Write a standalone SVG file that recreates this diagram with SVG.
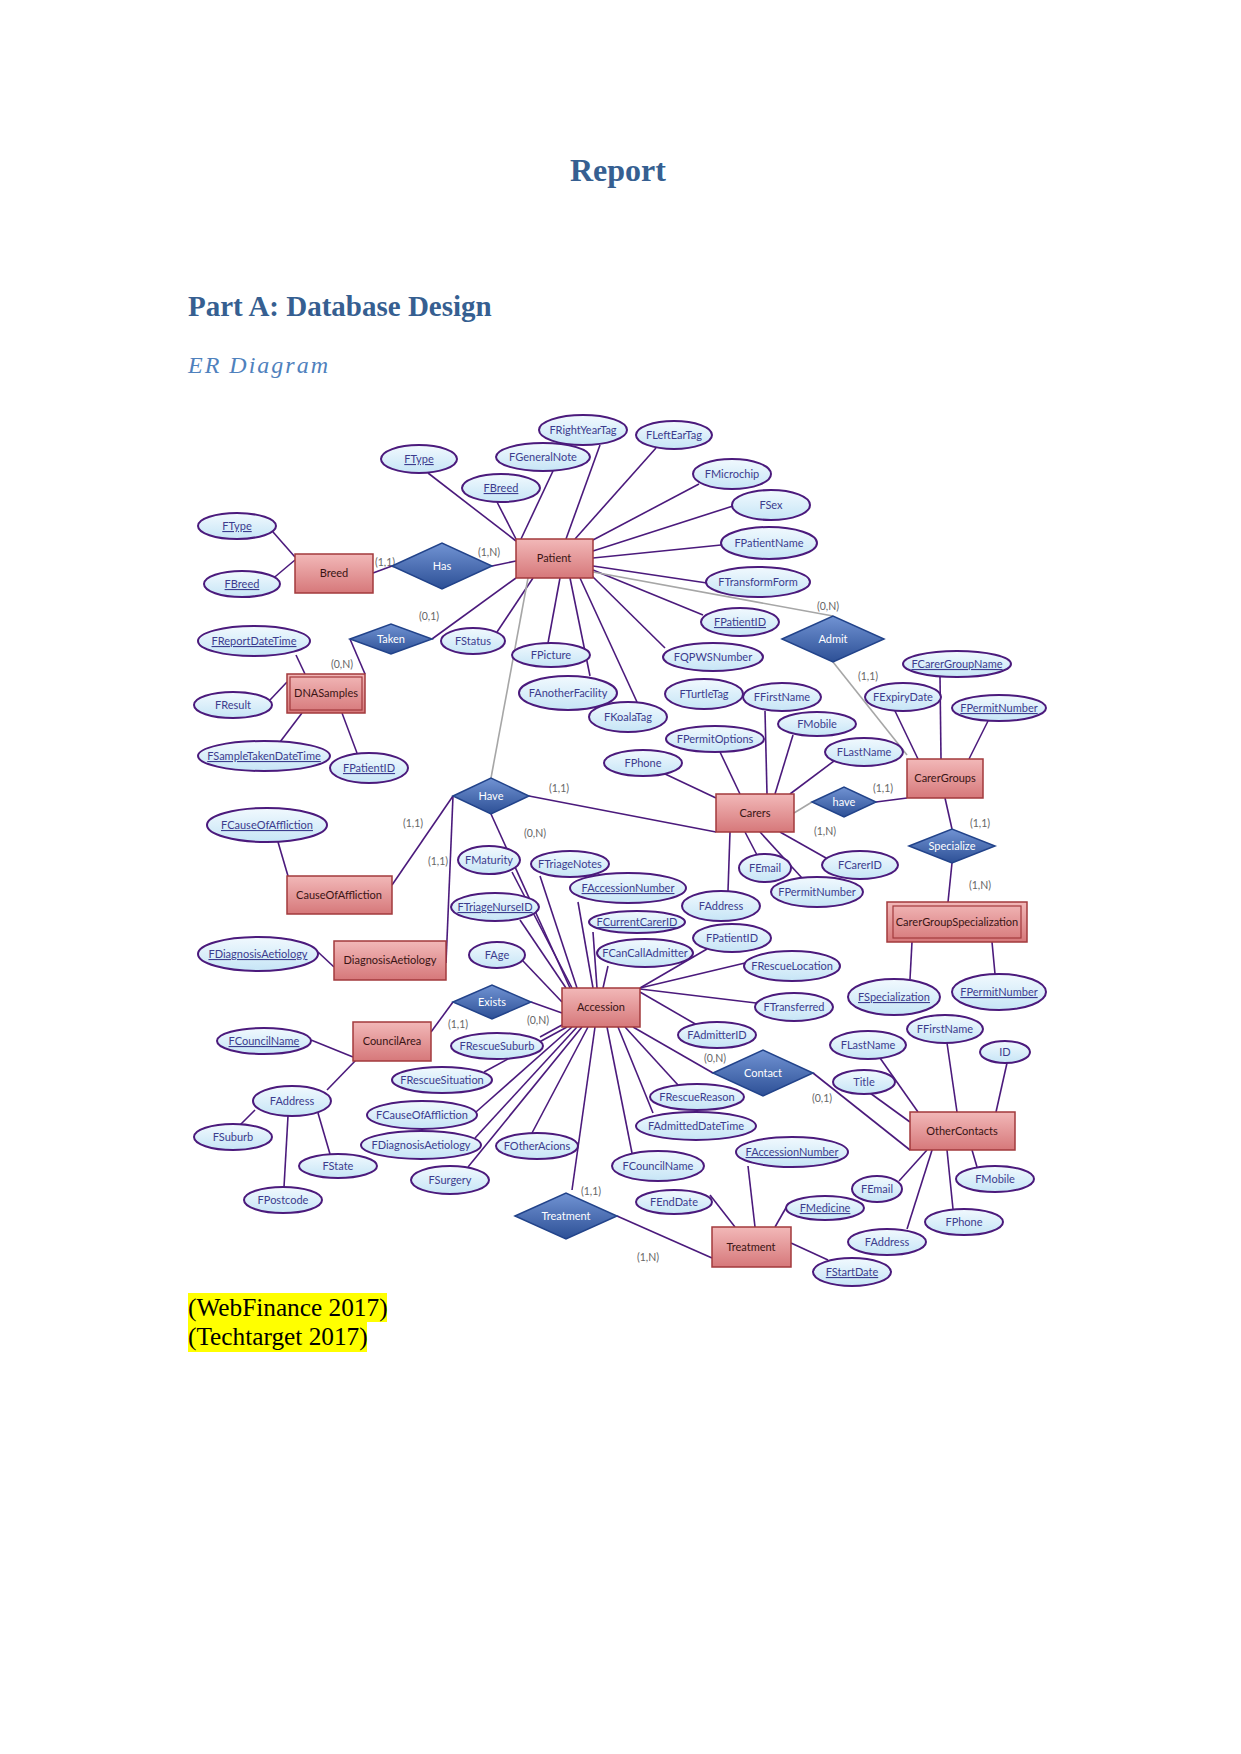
<svg xmlns="http://www.w3.org/2000/svg" width="1241" height="1754" viewBox="0 0 1241 1754">
<defs>
<linearGradient id="ge" x1="0" y1="0" x2="0" y2="1"><stop offset="0" stop-color="#f2b8b8"/><stop offset="1" stop-color="#d6787a"/></linearGradient>
<linearGradient id="ga" x1="0" y1="0" x2="0" y2="1"><stop offset="0" stop-color="#f1f9fe"/><stop offset="1" stop-color="#c6e5f6"/></linearGradient>
<linearGradient id="gr" x1="0" y1="0" x2="0" y2="1"><stop offset="0" stop-color="#7193d3"/><stop offset="1" stop-color="#2d5096"/></linearGradient>
<style>
.e{fill:url(#ge);stroke:#a23a3c;stroke-width:1.5}
.ei{fill:none;stroke:#a23a3c;stroke-width:1.2}
.a{fill:url(#ga);stroke:#4b1a7c;stroke-width:2}
.r{fill:url(#gr);stroke:#22438a;stroke-width:1.5}
.conn line{stroke:#4b1a7c;stroke-width:1.6}
.conn line.g{stroke:#a6a6a6}
text{font-family:Lato,"Liberation Sans",sans-serif;font-size:11px;text-anchor:middle}
.at{fill:#3c3c8e}
.u{text-decoration:underline}
.et{fill:#3a1414}
.rt{fill:#ffffff}
.c{fill:#666;font-size:10.5px}
text.h{font-family:"Liberation Serif",serif;text-anchor:start}
text.h1{font-size:32px;font-weight:bold;fill:#365f91}
text.h2{font-size:29px;font-weight:bold;fill:#365f91}
text.h3{font-size:24px;font-style:italic;letter-spacing:2px;fill:#4f81bd}
text.ref{font-size:25.3px;fill:#000000}
</style>
</defs>
<rect width="1241" height="1754" fill="#ffffff"/>
<text class="h h1" x="570" y="181">Report</text>
<text class="h h2" x="188" y="316">Part A: Database Design</text>
<text class="h h3" x="188" y="373">ER Diagram</text>
<rect x="188" y="1293" width="199" height="29" fill="#ffff00"/>
<rect x="188" y="1322" width="179" height="30" fill="#ffff00"/>
<text class="h ref" x="188" y="1316">(WebFinance 2017)</text>
<text class="h ref" x="188" y="1345">(Techtarget 2017)</text>

<g id="connectors" class="conn">
<line x1="273" y1="532" x2="295" y2="557"/>
<line x1="270" y1="581" x2="295" y2="560"/>
<line x1="373" y1="573" x2="392" y2="566"/>
<line x1="492" y1="566" x2="516" y2="561"/>
<line x1="428" y1="473" x2="516" y2="541"/>
<line x1="497" y1="502" x2="516" y2="539"/>
<line x1="553" y1="471" x2="521" y2="539"/>
<line x1="600" y1="445" x2="566" y2="539"/>
<line x1="656" y1="448" x2="575" y2="539"/>
<line x1="699" y1="484" x2="593" y2="540"/>
<line x1="733" y1="506" x2="593" y2="551"/>
<line x1="721" y1="545" x2="593" y2="558"/>
<line x1="707" y1="583" x2="593" y2="566"/>
<line x1="703" y1="615" x2="593" y2="570"/>
<line class="g" x1="593" y1="572" x2="833" y2="616"/>
<line x1="516" y1="578" x2="432" y2="639"/>
<line x1="533" y1="578" x2="497" y2="632"/>
<line class="g" x1="528" y1="578" x2="491" y2="778"/>
<line x1="560" y1="578" x2="548" y2="643"/>
<line x1="570" y1="578" x2="590" y2="676"/>
<line x1="580" y1="578" x2="637" y2="702"/>
<line x1="591" y1="575" x2="665" y2="648"/>
<line x1="350" y1="639" x2="365" y2="674"/>
<line x1="296" y1="655" x2="305" y2="674"/>
<line x1="270" y1="700" x2="287" y2="682"/>
<line x1="280" y1="742" x2="302" y2="713"/>
<line x1="357" y1="753" x2="342" y2="713"/>
<line x1="278" y1="842" x2="288" y2="876"/>
<line x1="453" y1="796" x2="392" y2="885"/>
<line x1="453" y1="796" x2="446" y2="963"/>
<line x1="318" y1="952" x2="334" y2="967"/>
<line x1="529" y1="796" x2="716" y2="832"/>
<line x1="491" y1="814" x2="570" y2="988"/>
<line x1="663" y1="773" x2="716" y2="798"/>
<line x1="720" y1="752" x2="740" y2="794"/>
<line x1="765" y1="711" x2="767" y2="794"/>
<line x1="793" y1="735" x2="775" y2="794"/>
<line x1="838" y1="758" x2="790" y2="794"/>
<line class="g" x1="794" y1="813" x2="812" y2="802"/>
<line x1="730" y1="832" x2="728" y2="891"/>
<line x1="745" y1="832" x2="757" y2="855"/>
<line x1="760" y1="832" x2="802" y2="878"/>
<line x1="780" y1="832" x2="826" y2="858"/>
<line class="g" x1="833" y1="662" x2="907" y2="755"/>
<line x1="895" y1="711" x2="918" y2="759"/>
<line x1="940" y1="677" x2="941" y2="759"/>
<line x1="988" y1="721" x2="969" y2="759"/>
<line x1="876" y1="802" x2="907" y2="798"/>
<line x1="945" y1="798" x2="952" y2="829"/>
<line x1="952" y1="863" x2="948" y2="902"/>
<line x1="912" y1="942" x2="910" y2="979"/>
<line x1="992" y1="942" x2="995" y2="974"/>
<line x1="512" y1="872" x2="572" y2="988"/>
<line x1="540" y1="876" x2="577" y2="988"/>
<line x1="578" y1="902" x2="593" y2="988"/>
<line x1="593" y1="932" x2="597" y2="988"/>
<line x1="608" y1="966" x2="603" y2="988"/>
<line x1="520" y1="920" x2="566" y2="988"/>
<line x1="523" y1="961" x2="562" y2="1002"/>
<line x1="531" y1="1002" x2="562" y2="1013"/>
<line x1="431" y1="1032" x2="453" y2="1002"/>
<line x1="707" y1="949" x2="640" y2="988"/>
<line x1="745" y1="963" x2="640" y2="988"/>
<line x1="756" y1="1003" x2="640" y2="989"/>
<line x1="697" y1="1025" x2="640" y2="992"/>
<line x1="633" y1="1027" x2="713" y2="1073"/>
<line x1="562" y1="1025" x2="540" y2="1037"/>
<line x1="567" y1="1027" x2="484" y2="1072"/>
<line x1="572" y1="1027" x2="476" y2="1112"/>
<line x1="577" y1="1027" x2="475" y2="1138"/>
<line x1="582" y1="1027" x2="468" y2="1167"/>
<line x1="588" y1="1027" x2="532" y2="1133"/>
<line x1="595" y1="1027" x2="572" y2="1190"/>
<line x1="607" y1="1027" x2="632" y2="1153"/>
<line x1="618" y1="1027" x2="653" y2="1113"/>
<line x1="625" y1="1027" x2="678" y2="1085"/>
<line x1="311" y1="1040" x2="353" y2="1057"/>
<line x1="357" y1="1059" x2="327" y2="1090"/>
<line x1="255" y1="1110" x2="240" y2="1125"/>
<line x1="288" y1="1116" x2="284" y2="1187"/>
<line x1="318" y1="1113" x2="330" y2="1154"/>
<line x1="617" y1="1216" x2="712" y2="1258"/>
<line x1="710" y1="1195" x2="735" y2="1227"/>
<line x1="748" y1="1166" x2="755" y2="1227"/>
<line x1="787" y1="1206" x2="775" y2="1227"/>
<line x1="791" y1="1243" x2="828" y2="1260"/>
<line x1="813" y1="1073" x2="910" y2="1150"/>
<line x1="870" y1="1093" x2="910" y2="1122"/>
<line x1="880" y1="1058" x2="918" y2="1112"/>
<line x1="947" y1="1043" x2="957" y2="1112"/>
<line x1="1007" y1="1063" x2="996" y2="1112"/>
<line x1="972" y1="1150" x2="977" y2="1167"/>
<line x1="947" y1="1150" x2="953" y2="1209"/>
<line x1="927" y1="1150" x2="899" y2="1181"/>
<line x1="933" y1="1147" x2="907" y2="1229"/>
</g>

<g id="cardinalities">
<text class="c" x="385" y="566">(1,1)</text>
<text class="c" x="489" y="556">(1,N)</text>
<text class="c" x="429" y="620">(0,1)</text>
<text class="c" x="828" y="610">(0,N)</text>
<text class="c" x="342" y="668">(0,N)</text>
<text class="c" x="559" y="792">(1,1)</text>
<text class="c" x="535" y="837">(0,N)</text>
<text class="c" x="413" y="827">(1,1)</text>
<text class="c" x="868" y="680">(1,1)</text>
<text class="c" x="883" y="792">(1,1)</text>
<text class="c" x="825" y="835">(1,N)</text>
<text class="c" x="980" y="827">(1,1)</text>
<text class="c" x="980" y="889">(1,N)</text>
<text class="c" x="438" y="865">(1,1)</text>
<text class="c" x="458" y="1028">(1,1)</text>
<text class="c" x="538" y="1024">(0,N)</text>
<text class="c" x="715" y="1062">(0,N)</text>
<text class="c" x="822" y="1102">(0,1)</text>
<text class="c" x="591" y="1195">(1,1)</text>
<text class="c" x="648" y="1261">(1,N)</text>
</g>

<g id="rel-has"><polygon class="r" points="392,566 442,543 492,566 442,589"/><text class="rt" x="442" y="570">Has</text></g>
<g id="rel-taken"><polygon class="r" points="350,639 391,624 432,639 391,654"/><text class="rt" x="391" y="643">Taken</text></g>
<g id="rel-admit"><polygon class="r" points="782,639 833,616 884,639 833,662"/><text class="rt" x="833" y="643">Admit</text></g>
<g id="rel-have"><polygon class="r" points="453,796 491,778 529,796 491,814"/><text class="rt" x="491" y="800">Have</text></g>
<g id="rel-have2"><polygon class="r" points="812,802 844,787 876,802 844,817"/><text class="rt" x="844" y="806">have</text></g>
<g id="rel-specialize"><polygon class="r" points="909,846 952,829 995,846 952,863"/><text class="rt" x="952" y="850">Specialize</text></g>
<g id="rel-exists"><polygon class="r" points="453,1002 492,985 531,1002 492,1019"/><text class="rt" x="492" y="1006">Exists</text></g>
<g id="rel-contact"><polygon class="r" points="713,1073 763,1050 813,1073 763,1096"/><text class="rt" x="763" y="1077">Contact</text></g>
<g id="rel-treatment"><polygon class="r" points="515,1216 566,1193 617,1216 566,1239"/><text class="rt" x="566" y="1220">Treatment</text></g>

<g id="ent-breed"><rect class="e" x="295" y="554" width="78" height="39"/><text class="et" x="334" y="577">Breed</text></g>
<g id="ent-patient"><rect class="e" x="516" y="539" width="77" height="39"/><text class="et" x="554" y="562">Patient</text></g>
<g id="ent-dnasamples"><rect class="e" x="287" y="674" width="78" height="39"/><rect class="ei" x="290" y="677" width="72" height="33"/><text class="et" x="326" y="697">DNASamples</text></g>
<g id="ent-causeofaffliction"><rect class="e" x="287" y="876" width="105" height="38"/><text class="et" x="339" y="899">CauseOfAffliction</text></g>
<g id="ent-diagnosisaetiology"><rect class="e" x="334" y="941" width="112" height="39"/><text class="et" x="390" y="964">DiagnosisAetiology</text></g>
<g id="ent-councilarea"><rect class="e" x="353" y="1022" width="78" height="39"/><text class="et" x="392" y="1045">CouncilArea</text></g>
<g id="ent-carers"><rect class="e" x="716" y="794" width="78" height="38"/><text class="et" x="755" y="817">Carers</text></g>
<g id="ent-carergroups"><rect class="e" x="907" y="759" width="76" height="39"/><text class="et" x="945" y="782">CarerGroups</text></g>
<g id="ent-carergroupspecialization"><rect class="e" x="887" y="902" width="140" height="40"/><rect class="ei" x="893" y="906" width="128" height="32"/><text class="et" x="957" y="926">CarerGroupSpecialization</text></g>
<g id="ent-accession"><rect class="e" x="562" y="988" width="78" height="39"/><text class="et" x="601" y="1011">Accession</text></g>
<g id="ent-treatment"><rect class="e" x="712" y="1227" width="79" height="40"/><text class="et" x="751" y="1251">Treatment</text></g>
<g id="ent-othercontacts"><rect class="e" x="910" y="1112" width="105" height="38"/><text class="et" x="962" y="1135">OtherContacts</text></g>

<g id="at-ftype1"><ellipse class="a" cx="419" cy="459" rx="38" ry="14"/><text class="at u" x="419" y="463">FType</text></g>
<g id="at-ftype2"><ellipse class="a" cx="237" cy="526" rx="39" ry="13"/><text class="at u" x="237" y="530">FType</text></g>
<g id="at-fbreed1"><ellipse class="a" cx="242" cy="584" rx="38" ry="13"/><text class="at u" x="242" y="588">FBreed</text></g>
<g id="at-frightyeartag"><ellipse class="a" cx="583" cy="430" rx="44" ry="15"/><text class="at" x="583" y="434">FRightYearTag</text></g>
<g id="at-flefteartag"><ellipse class="a" cx="674" cy="435" rx="38" ry="14"/><text class="at" x="674" y="439">FLeftEarTag</text></g>
<g id="at-fgeneralnote"><ellipse class="a" cx="543" cy="457" rx="47" ry="14"/><text class="at" x="543" y="461">FGeneralNote</text></g>
<g id="at-fbreed2"><ellipse class="a" cx="501" cy="488" rx="39" ry="14"/><text class="at u" x="501" y="492">FBreed</text></g>
<g id="at-fmicrochip"><ellipse class="a" cx="732" cy="474" rx="39" ry="15"/><text class="at" x="732" y="478">FMicrochip</text></g>
<g id="at-fsex"><ellipse class="a" cx="771" cy="505" rx="39" ry="15"/><text class="at" x="771" y="509">FSex</text></g>
<g id="at-fpatientname"><ellipse class="a" cx="769" cy="543" rx="48" ry="16"/><text class="at" x="769" y="547">FPatientName</text></g>
<g id="at-ftransformform"><ellipse class="a" cx="758" cy="582" rx="52" ry="15"/><text class="at" x="758" y="586">FTransformForm</text></g>
<g id="at-fpatientid1"><ellipse class="a" cx="740" cy="622" rx="39" ry="14"/><text class="at u" x="740" y="626">FPatientID</text></g>
<g id="at-freportdatetime"><ellipse class="a" cx="254" cy="641" rx="56" ry="15"/><text class="at u" x="254" y="645">FReportDateTime</text></g>
<g id="at-fstatus"><ellipse class="a" cx="473" cy="641" rx="32" ry="13"/><text class="at" x="473" y="645">FStatus</text></g>
<g id="at-fresult"><ellipse class="a" cx="233" cy="705" rx="39" ry="13"/><text class="at" x="233" y="709">FResult</text></g>
<g id="at-fsampletakendatetime"><ellipse class="a" cx="264" cy="756" rx="66" ry="15"/><text class="at u" x="264" y="760">FSampleTakenDateTime</text></g>
<g id="at-fpatientid2"><ellipse class="a" cx="369" cy="768" rx="39" ry="15"/><text class="at u" x="369" y="772">FPatientID</text></g>
<g id="at-fpicture"><ellipse class="a" cx="551" cy="655" rx="39" ry="12"/><text class="at" x="551" y="659">FPicture</text></g>
<g id="at-fqpwsnumber"><ellipse class="a" cx="713" cy="657" rx="50" ry="14"/><text class="at" x="713" y="661">FQPWSNumber</text></g>
<g id="at-fanotherfacility"><ellipse class="a" cx="568" cy="693" rx="49" ry="17"/><text class="at" x="568" y="697">FAnotherFacility</text></g>
<g id="at-fkoalatag"><ellipse class="a" cx="628" cy="717" rx="39" ry="15"/><text class="at" x="628" y="721">FKoalaTag</text></g>
<g id="at-fturtletag"><ellipse class="a" cx="704" cy="694" rx="39" ry="15"/><text class="at" x="704" y="698">FTurtleTag</text></g>
<g id="at-ffirstname1"><ellipse class="a" cx="782" cy="697" rx="39" ry="14"/><text class="at" x="782" y="701">FFirstName</text></g>
<g id="at-fpermitoptions"><ellipse class="a" cx="715" cy="739" rx="49" ry="13"/><text class="at" x="715" y="743">FPermitOptions</text></g>
<g id="at-fphone1"><ellipse class="a" cx="643" cy="763" rx="39" ry="13"/><text class="at" x="643" y="767">FPhone</text></g>
<g id="at-fmobile1"><ellipse class="a" cx="817" cy="724" rx="39" ry="12"/><text class="at" x="817" y="728">FMobile</text></g>
<g id="at-flastname1"><ellipse class="a" cx="864" cy="752" rx="39" ry="14"/><text class="at" x="864" y="756">FLastName</text></g>
<g id="at-fcarergroupname"><ellipse class="a" cx="957" cy="664" rx="54" ry="13"/><text class="at u" x="957" y="668">FCarerGroupName</text></g>
<g id="at-fexpirydate"><ellipse class="a" cx="903" cy="697" rx="38" ry="14"/><text class="at" x="903" y="701">FExpiryDate</text></g>
<g id="at-fpermitnumber1"><ellipse class="a" cx="999" cy="708" rx="47" ry="13"/><text class="at u" x="999" y="712">FPermitNumber</text></g>
<g id="at-fcauseofaffliction1"><ellipse class="a" cx="267" cy="825" rx="60" ry="17"/><text class="at u" x="267" y="829">FCauseOfAffliction</text></g>
<g id="at-fmaturity"><ellipse class="a" cx="489" cy="860" rx="31" ry="14"/><text class="at" x="489" y="864">FMaturity</text></g>
<g id="at-ftriagenotes"><ellipse class="a" cx="570" cy="864" rx="39" ry="13"/><text class="at" x="570" y="868">FTriageNotes</text></g>
<g id="at-faccessionnumber1"><ellipse class="a" cx="628" cy="888" rx="58" ry="15"/><text class="at u" x="628" y="892">FAccessionNumber</text></g>
<g id="at-ftriagenurseid"><ellipse class="a" cx="495" cy="907" rx="44" ry="14"/><text class="at u" x="495" y="911">FTriageNurseID</text></g>
<g id="at-fcurrentcarerid"><ellipse class="a" cx="637" cy="922" rx="48" ry="11"/><text class="at u" x="637" y="926">FCurrentCarerID</text></g>
<g id="at-fcancalladmitter"><ellipse class="a" cx="645" cy="953" rx="48" ry="14"/><text class="at" x="645" y="957">FCanCallAdmitter</text></g>
<g id="at-fage"><ellipse class="a" cx="497" cy="955" rx="28" ry="13"/><text class="at" x="497" y="959">FAge</text></g>
<g id="at-fdiagnosisaetiology1"><ellipse class="a" cx="258" cy="954" rx="60" ry="17"/><text class="at u" x="258" y="958">FDiagnosisAetiology</text></g>
<g id="at-femail1"><ellipse class="a" cx="765" cy="868" rx="26" ry="14"/><text class="at" x="765" y="872">FEmail</text></g>
<g id="at-fcarerid"><ellipse class="a" cx="860" cy="865" rx="38" ry="14"/><text class="at" x="860" y="869">FCarerID</text></g>
<g id="at-fpermitnumber2"><ellipse class="a" cx="817" cy="892" rx="46" ry="15"/><text class="at" x="817" y="896">FPermitNumber</text></g>
<g id="at-faddress1"><ellipse class="a" cx="721" cy="906" rx="39" ry="15"/><text class="at" x="721" y="910">FAddress</text></g>
<g id="at-fpatientid3"><ellipse class="a" cx="732" cy="938" rx="39" ry="14"/><text class="at" x="732" y="942">FPatientID</text></g>
<g id="at-frescuelocation"><ellipse class="a" cx="792" cy="966" rx="48" ry="15"/><text class="at" x="792" y="970">FRescueLocation</text></g>
<g id="at-ftransferred"><ellipse class="a" cx="794" cy="1007" rx="39" ry="14"/><text class="at" x="794" y="1011">FTransferred</text></g>
<g id="at-fspecialization"><ellipse class="a" cx="894" cy="997" rx="46" ry="18"/><text class="at u" x="894" y="1001">FSpecialization</text></g>
<g id="at-fpermitnumber3"><ellipse class="a" cx="999" cy="992" rx="47" ry="18"/><text class="at u" x="999" y="996">FPermitNumber</text></g>
<g id="at-fcouncilname1"><ellipse class="a" cx="264" cy="1041" rx="47" ry="13"/><text class="at u" x="264" y="1045">FCouncilName</text></g>
<g id="at-frescuesuburb"><ellipse class="a" cx="497" cy="1046" rx="46" ry="13"/><text class="at" x="497" y="1050">FRescueSuburb</text></g>
<g id="at-fadmitterid"><ellipse class="a" cx="717" cy="1035" rx="39" ry="13"/><text class="at" x="717" y="1039">FAdmitterID</text></g>
<g id="at-ffirstname2"><ellipse class="a" cx="945" cy="1029" rx="38" ry="14"/><text class="at" x="945" y="1033">FFirstName</text></g>
<g id="at-flastname2"><ellipse class="a" cx="868" cy="1045" rx="38" ry="14"/><text class="at" x="868" y="1049">FLastName</text></g>
<g id="at-id"><ellipse class="a" cx="1005" cy="1052" rx="25" ry="11"/><text class="at" x="1005" y="1056">ID</text></g>
<g id="at-title"><ellipse class="a" cx="864" cy="1082" rx="31" ry="12"/><text class="at" x="864" y="1086">Title</text></g>
<g id="at-faddress2"><ellipse class="a" cx="292" cy="1101" rx="39" ry="15"/><text class="at" x="292" y="1105">FAddress</text></g>
<g id="at-fsuburb"><ellipse class="a" cx="233" cy="1137" rx="39" ry="13"/><text class="at" x="233" y="1141">FSuburb</text></g>
<g id="at-fstate"><ellipse class="a" cx="338" cy="1166" rx="39" ry="12"/><text class="at" x="338" y="1170">FState</text></g>
<g id="at-fpostcode"><ellipse class="a" cx="283" cy="1200" rx="39" ry="13"/><text class="at" x="283" y="1204">FPostcode</text></g>
<g id="at-frescuesituation"><ellipse class="a" cx="442" cy="1080" rx="50" ry="13"/><text class="at" x="442" y="1084">FRescueSituation</text></g>
<g id="at-fcauseofaffliction2"><ellipse class="a" cx="422" cy="1115" rx="55" ry="14"/><text class="at" x="422" y="1119">FCauseOfAffliction</text></g>
<g id="at-fdiagnosisaetiology2"><ellipse class="a" cx="421" cy="1145" rx="60" ry="14"/><text class="at" x="421" y="1149">FDiagnosisAetiology</text></g>
<g id="at-fsurgery"><ellipse class="a" cx="450" cy="1180" rx="39" ry="14"/><text class="at" x="450" y="1184">FSurgery</text></g>
<g id="at-frescuereason"><ellipse class="a" cx="697" cy="1097" rx="47" ry="13"/><text class="at" x="697" y="1101">FRescueReason</text></g>
<g id="at-fadmitteddatetime"><ellipse class="a" cx="696" cy="1126" rx="60" ry="14"/><text class="at" x="696" y="1130">FAdmittedDateTime</text></g>
<g id="at-fotheracions"><ellipse class="a" cx="537" cy="1146" rx="41" ry="13"/><text class="at" x="537" y="1150">FOtherAcions</text></g>
<g id="at-fcouncilname2"><ellipse class="a" cx="658" cy="1166" rx="46" ry="15"/><text class="at" x="658" y="1170">FCouncilName</text></g>
<g id="at-fenddate"><ellipse class="a" cx="674" cy="1202" rx="38" ry="12"/><text class="at" x="674" y="1206">FEndDate</text></g>
<g id="at-faccessionnumber2"><ellipse class="a" cx="792" cy="1152" rx="56" ry="15"/><text class="at u" x="792" y="1156">FAccessionNumber</text></g>
<g id="at-femail2"><ellipse class="a" cx="877" cy="1189" rx="25" ry="13"/><text class="at" x="877" y="1193">FEmail</text></g>
<g id="at-fmobile2"><ellipse class="a" cx="995" cy="1179" rx="39" ry="13"/><text class="at" x="995" y="1183">FMobile</text></g>
<g id="at-fmedicine"><ellipse class="a" cx="825" cy="1208" rx="39" ry="12"/><text class="at u" x="825" y="1212">FMedicine</text></g>
<g id="at-fphone2"><ellipse class="a" cx="964" cy="1222" rx="39" ry="13"/><text class="at" x="964" y="1226">FPhone</text></g>
<g id="at-faddress3"><ellipse class="a" cx="887" cy="1242" rx="39" ry="13"/><text class="at" x="887" y="1246">FAddress</text></g>
<g id="at-fstartdate"><ellipse class="a" cx="852" cy="1272" rx="39" ry="14"/><text class="at u" x="852" y="1276">FStartDate</text></g>
</svg>
